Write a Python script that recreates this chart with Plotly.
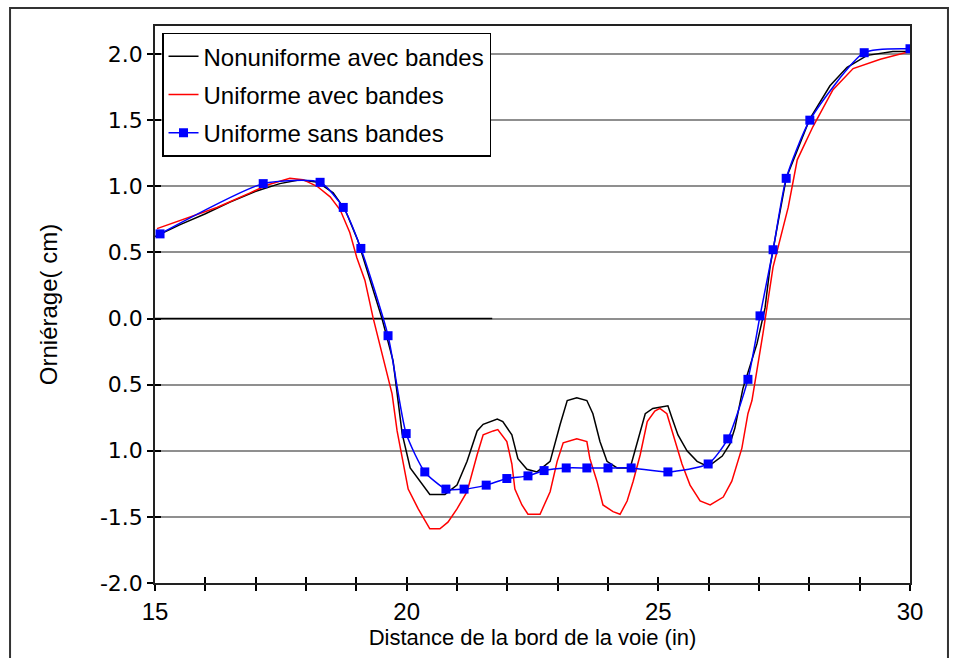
import plotly.graph_objects as go

# Distance from the lane edge (in) and rut depth (cm) for three loading cases
nonuni_x = [15.00, 15.50, 15.99, 16.49, 16.99, 17.48, 17.88, 18.24, 18.54, 18.78, 19.03, 19.27,
            19.51, 19.73, 19.91, 20.07, 20.27, 20.46, 20.76, 21.00, 21.20, 21.40, 21.52, 21.80,
            21.91, 22.09, 22.21, 22.39, 22.59, 22.85, 23.05, 23.19, 23.38, 23.58, 23.70, 23.84,
            23.98, 24.18, 24.44, 24.58, 24.74, 24.89, 25.19, 25.27, 25.39, 25.57, 25.77, 25.99,
            26.27, 26.42, 26.52, 26.68, 26.96, 27.12, 27.22, 27.36, 27.54, 28.01, 28.41, 28.75,
            29.15, 29.66, 30.00]
nonuni_y = [0.62, 0.71, 0.79, 0.88, 0.96, 1.02, 1.05, 1.03, 0.95, 0.82, 0.59, 0.29,
            0.00, -0.32, -0.87, -1.13, -1.23, -1.33, -1.33, -1.26, -1.08, -0.85, -0.80, -0.76,
            -0.78, -0.88, -1.06, -1.14, -1.16, -1.08, -0.80, -0.62, -0.60, -0.62, -0.72, -0.93,
            -1.08, -1.13, -1.13, -0.93, -0.72, -0.68, -0.66, -0.75, -0.88, -1.00, -1.08, -1.12,
            -1.04, -0.95, -0.83, -0.53, -0.19, 0.08, 0.39, 0.69, 1.06, 1.51, 1.76, 1.90,
            1.99, 2.02, 2.02]

uni_x = [15.04, 15.56, 16.23, 16.89, 17.23, 17.68, 17.94, 18.22, 18.48, 18.68, 18.87, 19.01,
         19.17, 19.33, 19.53, 19.71, 19.81, 19.91, 20.03, 20.23, 20.46, 20.66, 20.82, 21.00,
         21.20, 21.40, 21.52, 21.72, 21.81, 21.99, 22.09, 22.15, 22.29, 22.41, 22.65, 22.85,
         22.99, 23.11, 23.38, 23.58, 23.64, 23.78, 23.90, 24.10, 24.24, 24.38, 24.50, 24.64,
         24.78, 24.93, 25.03, 25.17, 25.27, 25.37, 25.47, 25.63, 25.83, 26.03, 26.29, 26.46,
         26.56, 26.66, 26.78, 26.86, 27.08, 27.28, 27.58, 27.76, 28.07, 28.47, 28.87, 29.41,
         30.00]
uni_y = [0.68, 0.75, 0.84, 0.95, 1.01, 1.06, 1.05, 1.00, 0.92, 0.82, 0.65, 0.46,
         0.29, 0.01, -0.30, -0.57, -0.85, -1.06, -1.29, -1.44, -1.59, -1.59, -1.54, -1.44,
         -1.31, -1.03, -0.88, -0.85, -0.84, -0.93, -1.10, -1.29, -1.41, -1.48, -1.48, -1.31,
         -1.08, -0.94, -0.91, -0.93, -1.06, -1.23, -1.41, -1.46, -1.48, -1.38, -1.23, -1.03,
         -0.78, -0.70, -0.68, -0.72, -0.85, -0.98, -1.10, -1.26, -1.38, -1.41, -1.35, -1.23,
         -1.10, -0.98, -0.72, -0.62, -0.11, 0.39, 0.84, 1.20, 1.45, 1.73, 1.89, 1.96,
         2.02]

sans_x = [15.10, 17.15, 18.28, 18.74, 19.09, 19.63, 19.99, 20.36, 20.78, 21.14, 21.58, 21.99,
          22.41, 22.73, 23.17, 23.58, 24.00, 24.46, 25.19, 25.99, 26.38, 26.78, 27.02, 27.28,
          27.54, 28.01, 29.09, 30.00]
sans_y = [0.64, 1.02, 1.03, 0.84, 0.53, -0.13, -0.87, -1.16, -1.29, -1.29, -1.26, -1.21,
          -1.19, -1.15, -1.13, -1.13, -1.13, -1.13, -1.16, -1.10, -0.91, -0.46, 0.02, 0.52,
          1.06, 1.50, 2.01, 2.04]

# Short reference line along zero
zero_x = [15.0, 21.7]
zero_y = [0.0, 0.0]

x_ticks = list(range(15, 31))
x_labels = [str(v) if v % 5 == 0 else "" for v in x_ticks]
y_ticks = [2.0, 1.5, 1.0, 0.5, 0.0, -0.5, -1.0, -1.5, -2.0]
y_labels = ["2.0", "1.5", "1.0", "0.5", "0.0", "0.5", "1.0", "-1.5", "-2.0"]

fig = go.Figure()

fig.add_trace(go.Scatter(x=zero_x, y=zero_y, mode="lines",
                         line=dict(color="black", width=1.5),
                         showlegend=False, hoverinfo="skip"))
fig.add_trace(go.Scatter(x=nonuni_x, y=nonuni_y, mode="lines",
                         name="Nonuniforme avec bandes", legendgroup="a",
                         line=dict(color="black", width=1.5)))
fig.add_trace(go.Scatter(x=uni_x, y=uni_y, mode="lines",
                         name="Uniforme avec bandes", legendgroup="b",
                         line=dict(color="#ff0000", width=1.5)))
fig.add_trace(go.Scatter(x=sans_x, y=sans_y, mode="lines+markers",
                         name="Uniforme sans bandes", legendgroup="c",
                         line=dict(color="#0000ff", width=1.5, shape="spline", smoothing=0.6),
                         marker=dict(symbol="square", size=9, color="#0000ff")))
# empty trace carrying the inner tick axes
fig.add_trace(go.Scatter(x=[], y=[], xaxis="x2", yaxis="y2", showlegend=False))

x_range = [15, 30]
y_range = [-2, 2.212]

fig.update_layout(
    width=958, height=658,
    margin=dict(l=155, r=48, t=26, b=75),
    paper_bgcolor="white", plot_bgcolor="white",
    font=dict(family="Liberation Sans, Arial, sans-serif", color="black"),
    xaxis=dict(range=x_range, tickmode="array", tickvals=x_ticks, ticktext=x_labels,
               ticks="outside", ticklen=6, tickwidth=1.5, tickcolor="black",
               showline=True, linecolor="#222", linewidth=1.5, mirror=True,
               showgrid=False, zeroline=False,
               tickfont=dict(size=24, family="Liberation Sans, Arial, sans-serif"),
               title=dict(text="Distance de la bord de la voie (in)", standoff=4,
                          font=dict(size=22))),
    yaxis=dict(range=y_range, tickmode="array", tickvals=y_ticks, ticktext=y_labels,
               ticks="outside", ticklen=6, tickwidth=1.5, tickcolor="black",
               showline=True, linecolor="#222", linewidth=1.5, mirror=True,
               showgrid=True, gridcolor="#8f8f8f", gridwidth=1.5, zeroline=False,
               tickfont=dict(size=22, family="DejaVu Sans, sans-serif"),
               title=dict(text="Orniérage( cm)", standoff=36, font=dict(size=24))),
    xaxis2=dict(range=x_range, overlaying="x", anchor="y2", side="bottom",
                tickmode="array", tickvals=x_ticks, ticks="inside", ticklen=6,
                tickwidth=1.5, tickcolor="black", showticklabels=False,
                showgrid=False, zeroline=False, showline=False),
    yaxis2=dict(range=y_range, overlaying="y", anchor="x2", side="left",
                tickmode="array", tickvals=y_ticks, ticks="inside", ticklen=6,
                tickwidth=1.5, tickcolor="black", showticklabels=False,
                showgrid=False, zeroline=False, showline=False),
    legend=dict(x=0.0093, y=0.988, xanchor="left", yanchor="top",
                bgcolor="white", bordercolor="black", borderwidth=1.5,
                font=dict(size=24, family="Liberation Sans, Arial, sans-serif"),
                tracegroupgap=4, itemwidth=30),
    shapes=[dict(type="rect", xref="paper", yref="paper",
                 x0=-0.192, x1=1.0503, y0=-0.2, y1=1.0323,
                 line=dict(color="#333", width=2), fillcolor="rgba(0,0,0,0)",
                 layer="below")],
    showlegend=True,
)

fig.write_html("out.html")
